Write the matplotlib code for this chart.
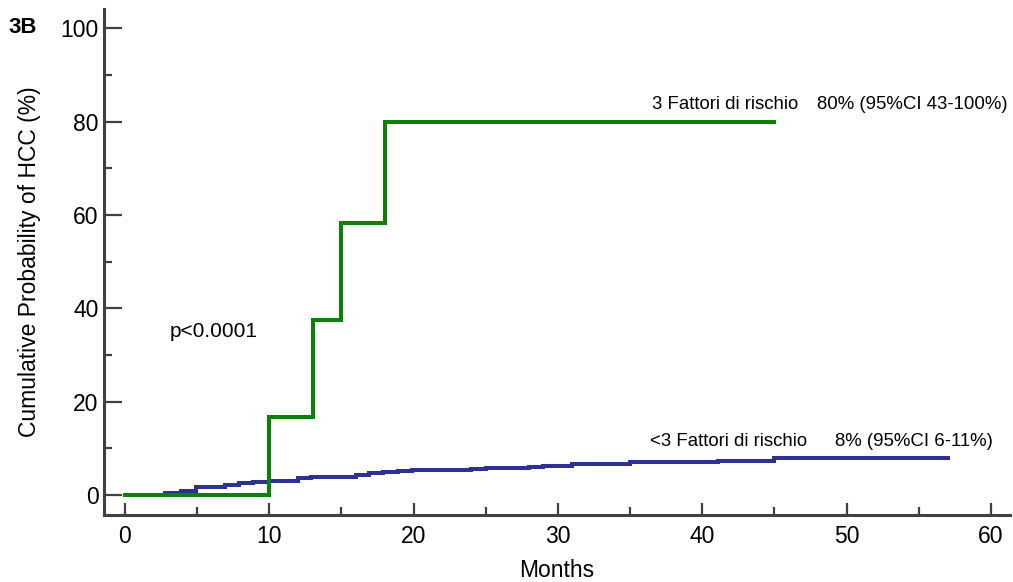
import numpy as np
import matplotlib.pyplot as plt

plt.rcParams['font.family'] = ['Liberation Sans', 'DejaVu Sans']

# step times (months) and cumulative probability (%) after each step
t_three = [0, 10, 13, 15, 18, 45]
p_three = [0, 16.7, 37.5, 58.3, 80.0, 80.0]

t_less = [0, 2.8, 3.9, 4.9, 6.9, 7.9, 8.9, 10, 12, 12.9, 16, 16.9, 17.9, 18.9,
          19.9, 24, 25, 28, 29, 31, 35, 41.1, 45, 57]
p_less = [0, 0.5, 0.9, 1.6, 2.1, 2.5, 2.7, 2.9, 3.6, 3.9, 4.2, 4.6, 4.9, 5.1,
          5.4, 5.6, 5.8, 5.9, 6.3, 6.6, 7.0, 7.3, 8.0, 8.0]

label_three = "3 Fattori di rischio"
label_less = "<3 Fattori di rischio"
ci_three = "80% (95%CI 43-100%)"
ci_less = "8% (95%CI 6-11%)"

green = '#0b800b'
blue = '#2e3192'
axcol = '#404040'

fig = plt.figure(figsize=(10.13, 5.82), dpi=100)
ax = fig.add_axes([0.1027, 0.1151, 0.894, 0.8694])

ax.step(t_less, p_less, where='post', color=blue, lw=2.9, solid_joinstyle='miter')
ax.step(t_three, p_three, where='post', color=green, lw=2.9, solid_joinstyle='miter')

ax.set_xlim(-1.45, 61.3)
ax.set_ylim(-4.3, 104.1)

ax.set_xticks(np.arange(0, 61, 10))
ax.set_xticks(np.arange(5, 60, 10), minor=True)
ax.set_yticks(np.arange(0, 101, 20))
ax.set_yticks(np.arange(10, 100, 20), minor=True)

for s in ['top', 'right']:
    ax.spines[s].set_visible(False)
for s in ['left', 'bottom']:
    ax.spines[s].set_color(axcol)
    ax.spines[s].set_linewidth(2.2)

ax.tick_params(axis='x', which='major', direction='in', length=9, width=1.6,
               color=axcol, labelsize=16.5, pad=7)
ax.tick_params(axis='x', which='minor', direction='in', length=6, width=1.6, color=axcol)
ax.tick_params(axis='y', which='major', direction='in', length=13, width=1.6,
               color=axcol, labelsize=16.5, pad=4)
ax.tick_params(axis='y', which='minor', direction='in', length=6, width=1.6, color=axcol)

ax.set_xlabel("Months", fontsize=16.5, labelpad=8)
ax.set_ylabel("Cumulative Probability of HCC (%)", fontsize=16.5, labelpad=14)

ax.text(36.5, 82.7, label_three, fontsize=13.4, va='baseline', ha='left')
ax.text(47.96, 82.7, ci_three, fontsize=13.4, va='baseline', ha='left')
ax.text(36.4, 10.5, label_less, fontsize=13.4, va='baseline', ha='left')
ax.text(49.2, 10.5, ci_less, fontsize=13.4, va='baseline', ha='left')
ax.text(3.1, 35.1, "p<0.0001", fontsize=15, va='center', ha='left')

fig.text(0.008, 0.952, "3B", fontsize=16, fontweight='bold', ha='left', va='center')

fig.savefig("out.png", dpi=100)
